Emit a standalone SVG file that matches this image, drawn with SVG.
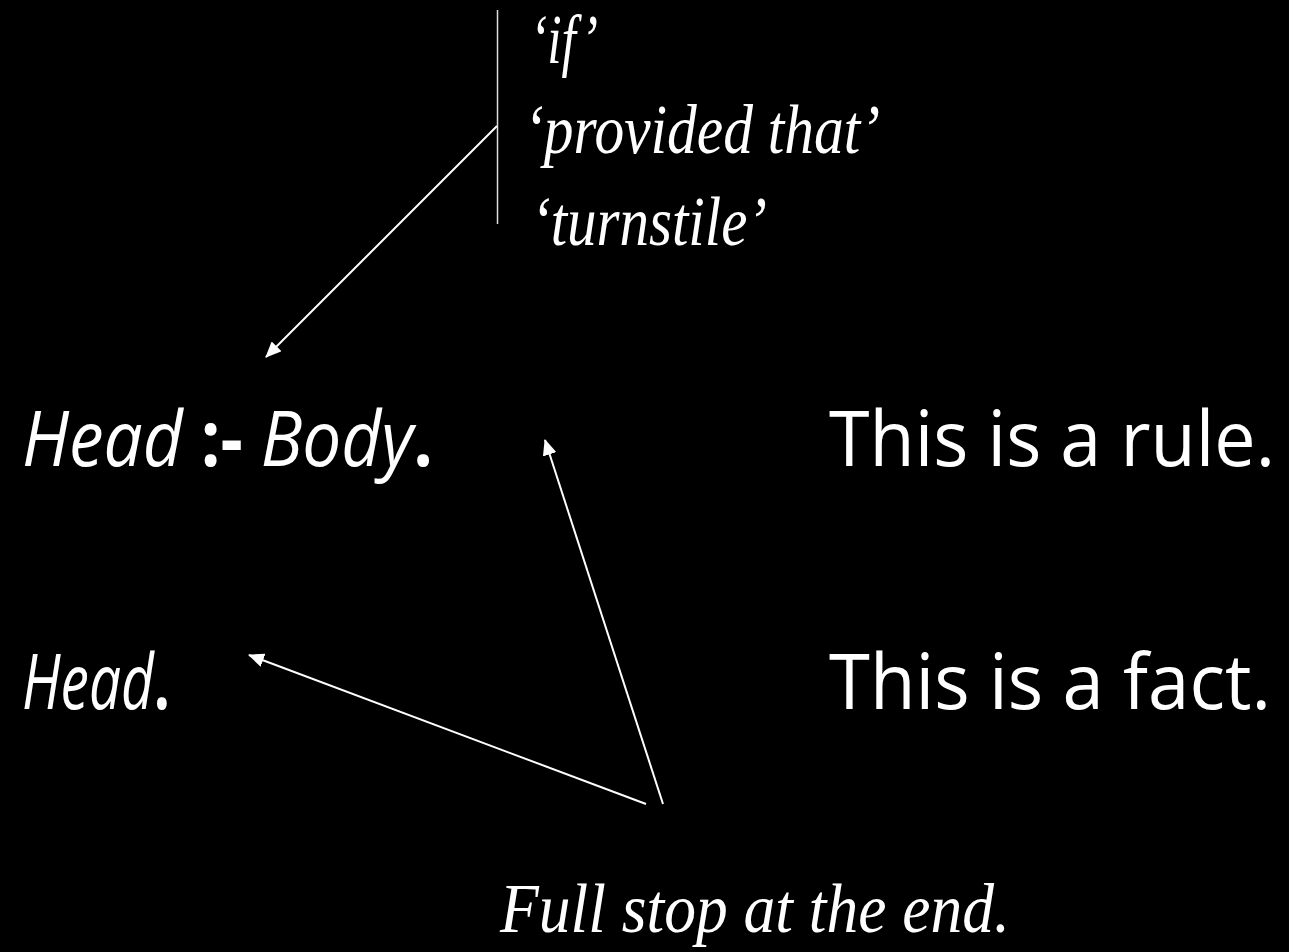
<svg xmlns="http://www.w3.org/2000/svg" width="1289" height="952" viewBox="0 0 1289 952">
<style>
.sans{font-family:"Open Sans","Noto Sans","Liberation Sans",sans-serif;fill:#fff;font-size:77px}
.it{font-style:italic}
.b{font-weight:bold}
.ser{font-family:"Liberation Serif","DejaVu Serif",serif;font-style:italic;fill:#fff;font-size:70px}
.con{stroke:#fff;stroke-width:2;fill:none}
</style>
<defs>
<marker id="ah" markerWidth="16" markerHeight="14" refX="15" refY="7" orient="auto" markerUnits="userSpaceOnUse" viewBox="0 0 16 14">
<path d="M0,0 L16,7 L0,14 z" fill="#fff"/>
</marker>
</defs>
<rect width="1289" height="952" fill="#000"/>
<g id="rule">
<text class="sans" x="22" y="466" textLength="411" lengthAdjust="spacingAndGlyphs"><tspan class="it">Head</tspan><tspan class="b"> :- </tspan><tspan class="it">Body</tspan><tspan class="b">.</tspan></text>
</g>
<g id="rule-label">
<text class="sans" x="829" y="466" textLength="446" lengthAdjust="spacingAndGlyphs">This is a rule.</text>
</g>
<g id="fact">
<text class="sans" x="22" y="709" textLength="148" lengthAdjust="spacingAndGlyphs"><tspan class="it">Head</tspan><tspan class="b">.</tspan></text>
</g>
<g id="fact-label">
<text class="sans" x="829" y="709" textLength="442" lengthAdjust="spacingAndGlyphs">This is a fact.</text>
</g>
<g id="turnstile-note">
<line x1="497.5" y1="10" x2="497.5" y2="224" stroke="#ddd" stroke-width="1.5"/>
<text class="ser" x="530" y="63" textLength="68" lengthAdjust="spacingAndGlyphs">‘if’</text>
<text class="ser" x="524" y="153" textLength="356" lengthAdjust="spacingAndGlyphs">‘provided that’</text>
<text class="ser" x="531" y="245" textLength="236" lengthAdjust="spacingAndGlyphs">‘turnstile’</text>
</g>
<g id="fullstop-note">
<text class="ser" x="500" y="932" textLength="510" lengthAdjust="spacingAndGlyphs">Full stop at the end.</text>
</g>
<g id="connectors">
<line class="con" x1="497" y1="126" x2="266" y2="357" marker-end="url(#ah)"/>
<line class="con" x1="663" y1="804" x2="545" y2="440" marker-end="url(#ah)"/>
<line class="con" x1="646" y1="804" x2="249" y2="655" marker-end="url(#ah)"/>
</g>
</svg>
